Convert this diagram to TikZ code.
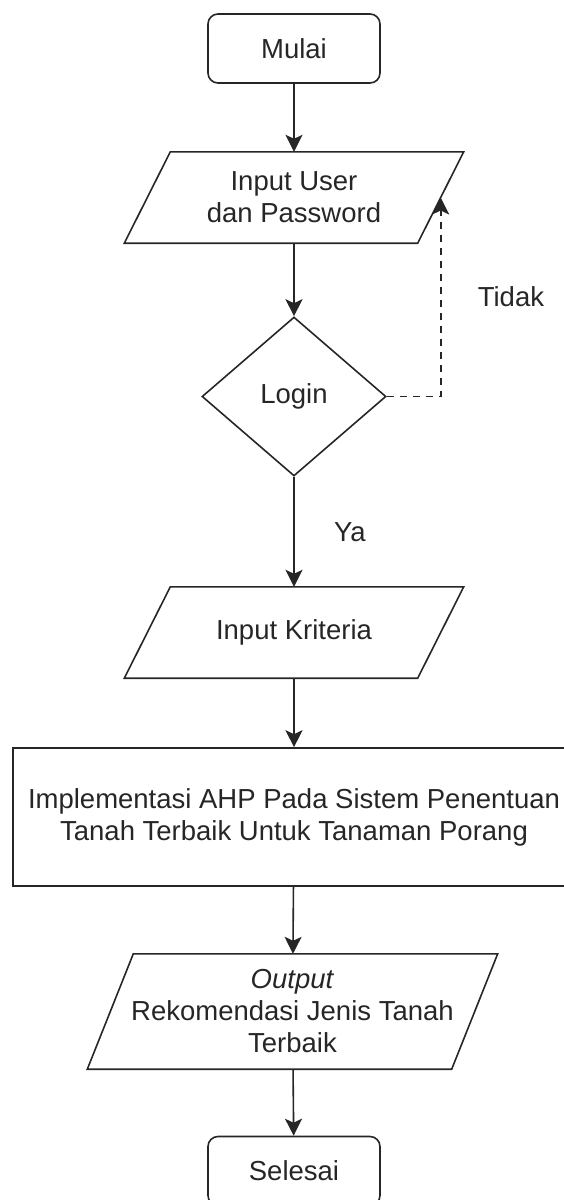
\documentclass[tikz,border=0pt]{standalone}
\usepackage{fontspec}
\setmainfont{Liberation Sans}
\usetikzlibrary{shapes.geometric,arrows.meta}
\begin{document}
\begin{tikzpicture}[x=1pt,y=-1pt,
    font=\fontsize{27.5}{32}\selectfont,
    every node/.style={text=black!85},
    box/.style={draw=black!85, line width=1.6pt, align=center},
    terminal/.style={box, rounded corners=10pt, minimum width=172pt, minimum height=69pt},
    io/.style={align=center, inner sep=0pt, minimum width=293pt, minimum height=91pt},
    decision/.style={box, diamond, minimum width=184pt, minimum height=159pt, inner sep=0pt},
    flow/.style={draw=black!85, line width=1.6pt, -{Stealth[length=17pt,width=17pt,inset=4pt]}},
    back/.style={flow, dash pattern=on 7pt off 6pt}]
    \useasboundingbox (0,0) rectangle (563,1200);
    \node[terminal] (mulai) at (294,48.5) {Mulai};
    \node[io] (user) at (294,197.5) {Input User\\dan Password};
    \node[decision] (login) at (294,396.5) {Login};
    \node[io] (kriteria) at (294,632.5) {Input Kriteria};
    \node[box, minimum width=562pt, minimum height=138pt] (ahp) at (294,817)
        {Implementasi AHP Pada Sistem Penentuan\\Tanah Terbaik Untuk Tanaman Porang};
    \node[io, minimum width=364pt, minimum height=115pt] (hasil) at (292.5,1011.5)
        {\textit{Output}\\Rekomendasi Jenis Tanah\\Terbaik};
    \node[terminal] (selesai) at (294,1171) {Selesai};
    \foreach \n in {user,kriteria,hasil}
        \draw[box] ([xshift=23pt]\n.north west) -- ([xshift=23pt]\n.north east)
            -- ([xshift=-23pt]\n.south east) -- ([xshift=-23pt]\n.south west) -- cycle;
    \draw[flow] (mulai) -- (user);
    \draw[flow] (user) -- (login);
    \draw[back] (login.east) -| node[pos=.75,right=33pt] {Tidak} (user.east);
    \draw[flow] (login) -- node[midway,right=36pt] {Ya} (kriteria);
    \draw[flow] (kriteria) -- (ahp);
    \draw[flow] (ahp) -- (hasil);
    \draw[flow] (hasil) -- (selesai);
\end{tikzpicture}
\end{document}
